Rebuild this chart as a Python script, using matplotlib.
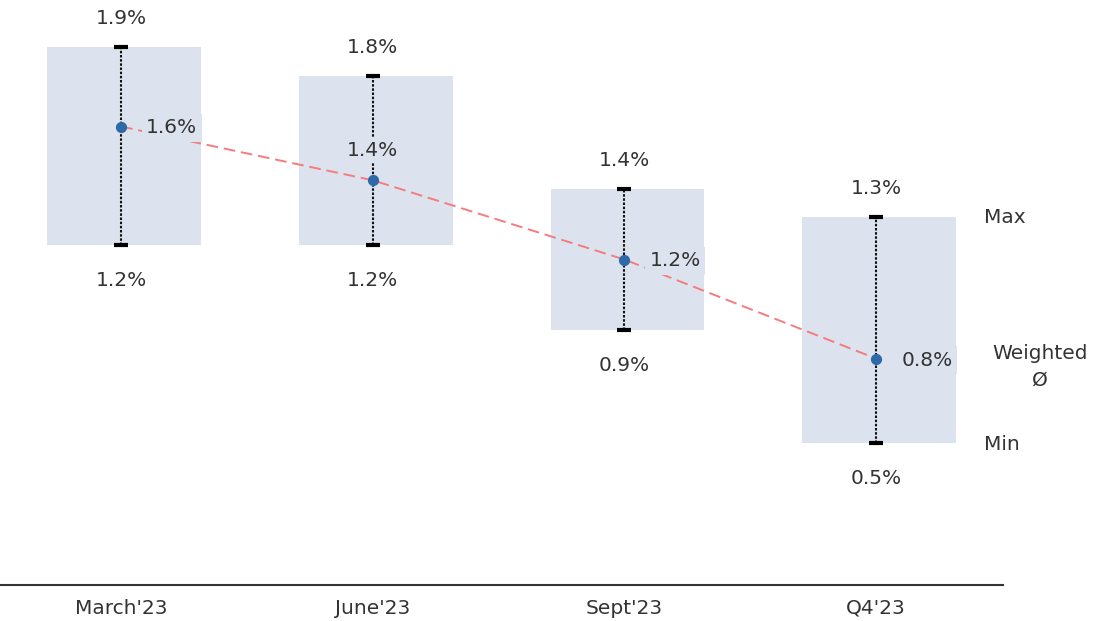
import numpy as np
import matplotlib.pyplot as plt

plt.rcParams['font.family'] = ['DejaVu Sans']

# data
categories = ["March'23", "June'23", "Sept'23", "Q4'23"]
max_vals = [1.9, 1.8, 1.4, 1.3]
min_vals = [1.2, 1.2, 0.9, 0.5]
avg_vals = [1.62, 1.43, 1.15, 0.80]
avg_labels = ["1.6%", "1.4%", "1.2%", "0.8%"]

box_color = '#dde3ee'
text_color = '#333333'
fs = 14.5

fig = plt.figure(figsize=(11.01, 6.21), dpi=100)
ax = fig.add_axes([0, 36 / 621, 1003 / 1101, 585 / 621])

x = np.arange(len(categories))

# shaded boxes between min and max
ax.bar(x + 0.012, np.array(max_vals) - np.array(min_vals), bottom=min_vals,
       width=0.61, color=box_color, zorder=1)

# min-max whiskers
ax.vlines(x, min_vals, max_vals, colors='#111111', linestyles=(0, (1.2, 0.8)),
          linewidth=1.5, zorder=3)
ax.scatter(x, max_vals, marker='_', s=90, color='black', linewidths=3, zorder=4)
ax.scatter(x, min_vals, marker='_', s=90, color='black', linewidths=3, zorder=4)

# weighted average trend
ax.plot(x, avg_vals, color='#f47c7c', linestyle=(0, (6, 3)), linewidth=1.4, zorder=2)
ax.scatter(x, avg_vals, s=50, color='#2f6aa8', zorder=6)

for i in range(len(categories)):
    ax.text(x[i], max_vals[i] + 0.1, f"{max_vals[i]:.1f}%", ha='center',
            va='center', fontsize=fs, color=text_color)
    ax.text(x[i], min_vals[i] - 0.125, f"{min_vals[i]:.1f}%", ha='center',
            va='center', fontsize=fs, color=text_color)
    if i == 1:
        ax.text(x[i], avg_vals[i] + 0.105, avg_labels[i], ha='center', va='center',
                fontsize=fs, color=text_color, zorder=5,
                bbox=dict(facecolor=box_color, edgecolor='none', pad=2))
    else:
        ax.text(x[i] + 0.1, avg_vals[i] - 0.005, avg_labels[i], ha='left', va='center',
                fontsize=fs, color=text_color, zorder=5,
                bbox=dict(facecolor=box_color, edgecolor='none', pad=3))

# legend-like labels on the right
ax.text(3.43, max_vals[3], "Max", ha='left', va='center', fontsize=fs, color=text_color)
ax.text(3.65, avg_vals[3] - 0.03, "Weighted\nØ", ha='center', va='center', fontsize=fs,
        color=text_color, linespacing=1.5)
ax.text(3.43, min_vals[3] - 0.005, "Min", ha='left', va='center', fontsize=fs, color=text_color)

ax.set_xlim(-0.481, 3.504)
ax.set_ylim(0, 2.067)
ax.set_xticks(x)
ax.set_xticklabels(categories, fontsize=fs, color=text_color)
ax.tick_params(axis='x', length=0, pad=10)
ax.set_yticks([])
for s in ['top', 'right', 'left']:
    ax.spines[s].set_visible(False)
ax.spines['bottom'].set_color('#333333')
ax.spines['bottom'].set_linewidth(1.5)

fig.savefig('out.png', dpi=100)
